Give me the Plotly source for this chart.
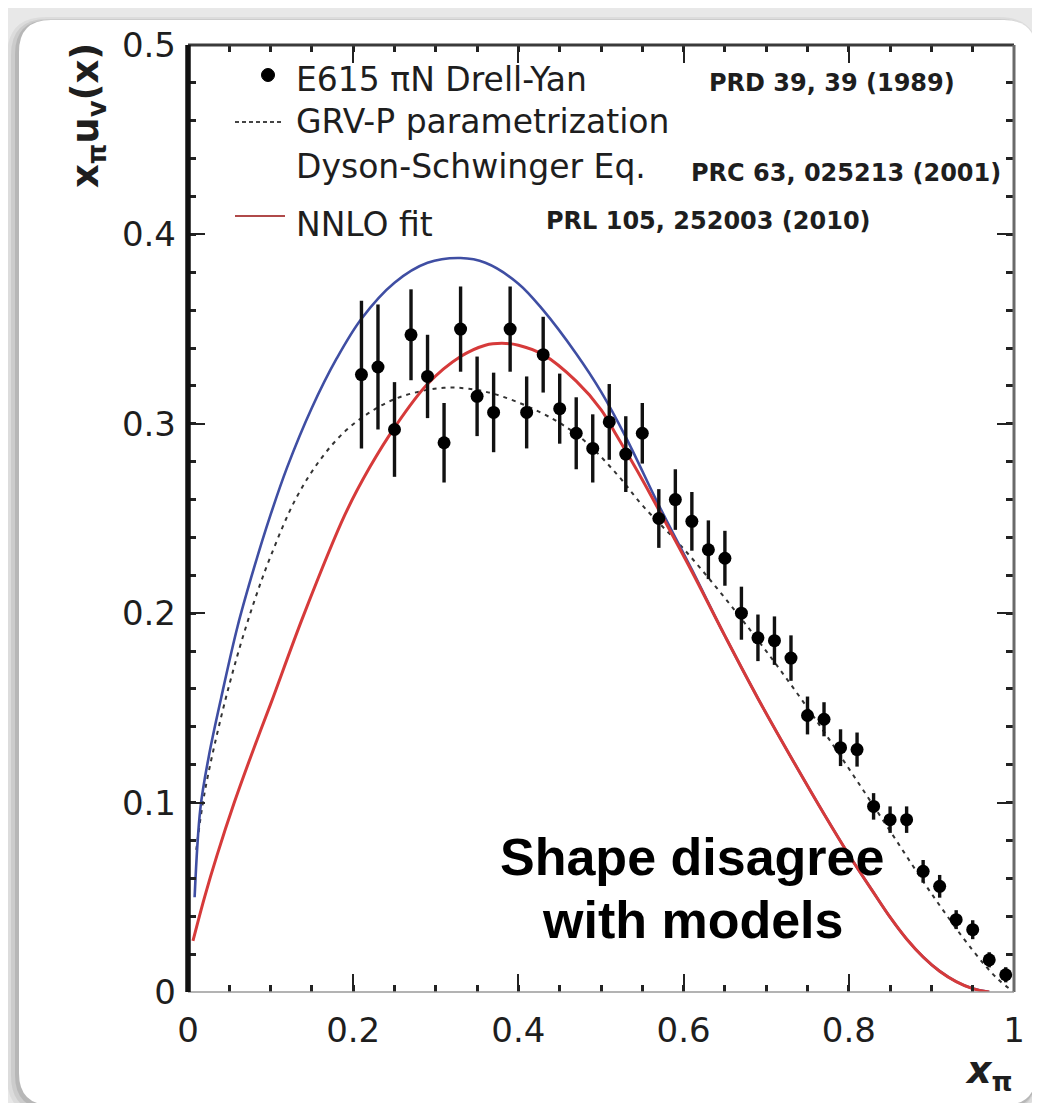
import plotly.graph_objects as go

# ---------------- data ----------------
e615_x = [0.21, 0.23, 0.25, 0.27, 0.29, 0.31, 0.33, 0.35, 0.37, 0.39,
          0.41, 0.43, 0.45, 0.47, 0.49, 0.51, 0.53, 0.55, 0.57, 0.59,
          0.61, 0.63, 0.65, 0.67, 0.69, 0.71, 0.73, 0.75, 0.77, 0.79,
          0.81, 0.83, 0.85, 0.87, 0.89, 0.91, 0.93, 0.95, 0.97, 0.99]
e615_y = [0.326, 0.330, 0.297, 0.347, 0.325, 0.290, 0.350, 0.3145, 0.306, 0.350,
          0.306, 0.3365, 0.308, 0.295, 0.287, 0.301, 0.284, 0.295, 0.250, 0.260,
          0.2485, 0.2335, 0.229, 0.200, 0.187, 0.1855, 0.1763, 0.146, 0.144, 0.129,
          0.128, 0.098, 0.091, 0.091, 0.0637, 0.0558, 0.0382, 0.0329, 0.017, 0.0091]
e615_err = [0.039, 0.033, 0.025, 0.024, 0.022, 0.021, 0.0225, 0.021, 0.021, 0.0225,
            0.019, 0.020, 0.0185, 0.019, 0.018, 0.020, 0.020, 0.016, 0.0155, 0.016,
            0.0155, 0.0155, 0.0145, 0.014, 0.0123, 0.0128, 0.012, 0.010, 0.009, 0.0097,
            0.009, 0.007, 0.007, 0.007, 0.006, 0.006, 0.005, 0.005, 0.004, 0.004]

grv_x = [0.01, 0.02, 0.04, 0.06, 0.08, 0.10, 0.13, 0.16, 0.19, 0.22, 0.25, 0.28,
         0.31, 0.34, 0.38, 0.44, 0.48, 0.52, 0.55, 0.60, 0.65, 0.70, 0.75, 0.80,
         0.85, 0.90, 0.95, 0.98, 1.00]
grv_y = [0.075, 0.105, 0.145, 0.178, 0.206, 0.230, 0.260, 0.281, 0.296, 0.306, 0.313, 0.317,
         0.319, 0.3185, 0.3145, 0.303, 0.291, 0.273, 0.257, 0.234, 0.208, 0.180, 0.150, 0.118,
         0.085, 0.052, 0.022, 0.007, 0.0]

dse_x = [0.008, 0.015, 0.025, 0.04, 0.06, 0.08, 0.10, 0.12, 0.15, 0.18, 0.21, 0.25,
         0.29, 0.33, 0.36, 0.40, 0.43, 0.47, 0.50, 0.53, 0.57, 0.61, 0.65, 0.69,
         0.73, 0.77, 0.80, 0.83, 0.85, 0.87, 0.89, 0.91, 0.93, 0.95, 0.97]
dse_y = [0.050, 0.097, 0.124, 0.155, 0.193, 0.224, 0.252, 0.277, 0.3085, 0.3345, 0.3555, 0.3745,
         0.385, 0.3875, 0.385, 0.374, 0.360, 0.337, 0.317, 0.293, 0.257, 0.223, 0.188, 0.155,
         0.124, 0.094, 0.0725, 0.0525, 0.0395, 0.028, 0.0185, 0.011, 0.0055, 0.0018, 0.0]

nnlo_x = [0.006, 0.02, 0.035, 0.056, 0.08, 0.10, 0.14, 0.19, 0.22, 0.25, 0.29, 0.33,
          0.36, 0.38, 0.40, 0.43, 0.47, 0.50, 0.52, 0.55, 0.57, 0.61, 0.65, 0.69,
          0.73, 0.77, 0.80, 0.83, 0.85, 0.87, 0.89, 0.91, 0.93, 0.95, 0.97]
nnlo_y = [0.027, 0.050, 0.072, 0.100, 0.129, 0.152, 0.199, 0.252, 0.277, 0.298, 0.321, 0.3355,
          0.3415, 0.3425, 0.3415, 0.3365, 0.3225, 0.3075, 0.293, 0.2705, 0.2545, 0.222, 0.188, 0.155,
          0.124, 0.094, 0.0725, 0.0525, 0.0395, 0.028, 0.0185, 0.011, 0.0055, 0.0018, 0.0]

x_tick_vals = [0, 0.2, 0.4, 0.6, 0.8, 1]
x_tick_text = ["0", "0.2", "0.4", "0.6", "0.8", "1"]
y_tick_vals = [0, 0.1, 0.2, 0.3, 0.4, 0.5]
y_tick_text = ["0", "0.1", "0.2", "0.3", "0.4", "0.5"]

legend_labels = ["E615 \u03c0N Drell-Yan", "GRV-P parametrization",
                 "Dyson-Schwinger Eq.", "NNLO fit"]
ref_labels = ["PRD 39, 39 (1989)", "PRC 63, 025213 (2001)", "PRL 105, 252003 (2010)"]
note_lines = ["Shape disagree", "with models"]

# ---------------- geometry helpers ----------------
FW, FH = 1040, 1103
ML, MR, MT, MB = 180, 34, 37, 119
PW = FW - ML - MR
PH = FH - MT - MB


def px(x):
    return (x - ML) / PW


def py(y):
    return (FH - MB - y) / PH


def rrect(x0, y0, x1, y1, r):
    rx, ry = r / PW, r / PH
    a, b, c, d = px(x0), px(x1), py(y0), py(y1)  # c top, d bottom (paper)
    return (f"M {a+rx},{c} L {b-rx},{c} Q {b},{c} {b},{c-ry} "
            f"L {b},{d+ry} Q {b},{d} {b-rx},{d} L {a+rx},{d} "
            f"Q {a},{d} {a},{d+ry} L {a},{c-ry} Q {a},{c} {a+rx},{c} Z")


shapes = []
# card shadow
for dx, dy, sp, alpha in [(-5, 4, 7, 0.05), (-4, 3, 4, 0.07), (-2, 2, 2, 0.10)]:
    shapes.append(dict(type="path", xref="paper", yref="paper", layer="below",
                       path=rrect(11 + dx - sp, 12 + dy - sp, 1028 + dx + sp, 1097 + dy + sp, 32 + sp),
                       fillcolor=f"rgba(0,0,0,{alpha})", line=dict(width=0)))
# white card
shapes.append(dict(type="path", xref="paper", yref="paper", layer="below",
                   path=rrect(11, 12, 1028, 1097, 32),
                   fillcolor="white", line=dict(width=0)))

# frame lines
frame = [((180, 37), (1006, 37), "#3a3a3a", 3),
         ((1006, 37), (1006, 984), "#6a6a6a", 3),
         ((180, 984), (1006, 984), "#9a9a9a", 1.5),
         ((180, 37), (180, 984), "#111111", 5.5)]
for (xa, ya), (xb, yb), col, w in frame:
    shapes.append(dict(type="line", xref="paper", yref="paper", layer="above",
                       x0=px(xa), y0=py(ya), x1=px(xb), y1=py(yb),
                       line=dict(color=col, width=w)))

# legend symbols
shapes.append(dict(type="circle", xref="paper", yref="paper", layer="above",
                   x0=px(253.5), x1=px(266.5), y0=py(73.5), y1=py(60.5),
                   fillcolor="black", line=dict(color="black", width=1)))
shapes.append(dict(type="line", xref="paper", yref="paper", layer="above",
                   x0=px(227), x1=px(274), y0=py(114), y1=py(114),
                   line=dict(color="#444", width=1.8, dash="4px,3px")))
shapes.append(dict(type="line", xref="paper", yref="paper", layer="above",
                   x0=px(227), x1=px(277), y0=py(208), y1=py(208),
                   line=dict(color="#b04a4a", width=2.2)))

annotations = []
txtcol = "#1e1e1e"
for lab, yc in zip(legend_labels, [71, 113, 158, 217]):
    annotations.append(dict(text=lab, xref="paper", yref="paper", x=px(286), y=py(yc),
                            xanchor="left", yanchor="middle", showarrow=False,
                            font=dict(family="DejaVu Sans", size=33, color=txtcol)))
for lab, xl, yc in zip(ref_labels, [699, 681, 536], [75, 165, 213]):
    annotations.append(dict(text=lab, xref="paper", yref="paper", x=px(xl), y=py(yc),
                            xanchor="left", yanchor="middle", showarrow=False,
                            font=dict(family="DejaVu Sans", size=24, color=txtcol, weight="bold")))
for lab, yc in zip(note_lines, [849, 912]):
    annotations.append(dict(text=lab, xref="paper", yref="paper", x=px(684), y=py(yc),
                            xanchor="center", yanchor="middle", showarrow=False,
                            font=dict(family="Liberation Sans", size=52, color="black", weight="bold")))
# axis titles
annotations.append(dict(text="x<sub>\u03c0</sub>u<sub>v</sub>(x)", xref="paper", yref="paper",
                        x=px(80), y=py(108), xanchor="center", yanchor="middle", textangle=-90,
                        showarrow=False,
                        font=dict(family="DejaVu Sans", size=37, color=txtcol, weight="bold")))
annotations.append(dict(text="<i>x</i><sub>\u03c0</sub>", xref="paper", yref="paper",
                        x=px(955), y=py(1064), xanchor="left", yanchor="middle",
                        showarrow=False,
                        font=dict(family="DejaVu Sans", size=38, color=txtcol, weight="bold")))

fig = go.Figure()
fig.add_trace(go.Scatter(x=grv_x, y=grv_y, mode="lines", name="GRV-P",
                         line=dict(color="#333", width=2, dash="4px,5px", shape="spline")))
fig.add_trace(go.Scatter(x=dse_x, y=dse_y, mode="lines", name="DSE",
                         line=dict(color="#3f4ea3", width=2.6, shape="spline")))
fig.add_trace(go.Scatter(x=nnlo_x, y=nnlo_y, mode="lines", name="NNLO",
                         line=dict(color="#d63a3a", width=3, shape="spline")))
fig.add_trace(go.Scatter(x=e615_x, y=e615_y, mode="markers", name="E615",
                         marker=dict(color="black", size=13),
                         error_y=dict(type="data", array=e615_err, color="#111",
                                      thickness=3.4, width=0)))

fig.update_xaxes(range=[0, 1], tickvals=x_tick_vals, ticktext=x_tick_text,
                 showgrid=False, zeroline=False, showline=False, mirror="ticks",
                 ticks="inside", ticklen=18, tickwidth=2, tickcolor="#222",
                 minor=dict(ticks="inside", dtick=0.05, ticklen=7, tickwidth=3, tickcolor="#222"),
                 tickfont=dict(family="DejaVu Sans", size=34, color=txtcol),
                 ticklabelstandoff=15)
fig.update_yaxes(range=[0, 0.5], tickvals=y_tick_vals, ticktext=y_tick_text,
                 showgrid=False, zeroline=False, showline=False, mirror="ticks",
                 ticks="inside", ticklen=17, tickwidth=2, tickcolor="#222",
                 minor=dict(ticks="inside", dtick=0.02, ticklen=8, tickwidth=3, tickcolor="#222"),
                 tickfont=dict(family="DejaVu Sans", size=34, color=txtcol),
                 ticklabelstandoff=11)

fig.update_layout(width=FW, height=FH, autosize=False,
                  margin=dict(l=ML, r=MR, t=MT, b=MB, pad=0),
                  paper_bgcolor="#e8e8e8", plot_bgcolor="rgba(0,0,0,0)",
                  showlegend=False, shapes=shapes, annotations=annotations)

fig.write_html("out.html")
